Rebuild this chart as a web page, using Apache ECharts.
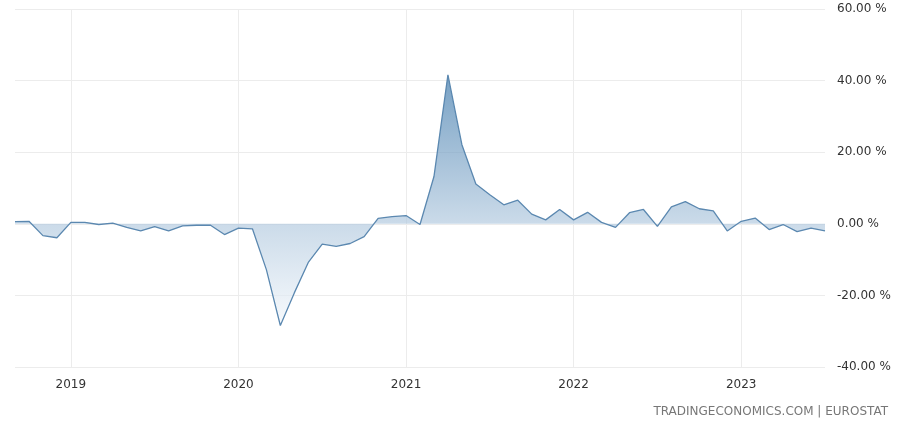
<!DOCTYPE html>
<html><head><meta charset="utf-8">
<script src="https://cdn.jsdelivr.net/npm/echarts@6/dist/echarts.min.js"></script>
<style>html,body{margin:0;padding:0;background:#fff}#c{width:900px;height:426px}</style>
</head><body><div id="c"></div>
<script>
const months = [];
(function(){let y=2018,m=9;for(let i=0;i<59;i++){months.push(y+'-'+String(m).padStart(2,'0'));m++;if(m>12){m=1;y++;}}})();
const values = [0.6,0.7,-3.3,-3.9,0.4,0.4,-0.2,0.2,-1.0,-2.0,-0.8,-2.0,-0.6,-0.4,-0.4,-3.0,-1.2,-1.4,-12.8,-28.4,-19.3,-10.8,-5.7,-6.3,-5.5,-3.6,1.5,2.0,2.3,
 -0.2,13.2,41.6,22.1,11.1,8.1,5.3,6.6,2.7,1.1,4.0,1.1,3.2,0.4,-1.0,3.1,4.0,-0.7,4.7,6.2,4.2,3.6,-2.0,0.7,1.6,-1.6,-0.2,-2.2,-1.2,-2.0];
const yTicks = [-40,-20,0,20,40,60];
const chart = echarts.init(document.getElementById('c'));
const isJan = (i)=>months[i].endsWith('-01');
chart.setOption({
  animation:false,
  grid:{left:15,right:75,top:9,bottom:59},
  xAxis:{type:'category',data:months,boundaryGap:false,
    axisLine:{show:false},axisTick:{show:false},
    axisLabel:{interval:(i)=>isJan(i),formatter:(v)=>v.slice(0,4),color:'#333',fontSize:12,fontFamily:'DejaVu Sans',margin:12},
    splitLine:{show:true,interval:(i)=>isJan(i),lineStyle:{color:'#ececec'}}},
  yAxis:{type:'value',position:'right',min:-40,max:60,interval:20,
    axisLabel:{formatter:(v)=>v.toFixed(2)+' %',color:'#333',fontSize:12,fontFamily:'DejaVu Sans',margin:12},
    splitLine:{lineStyle:{color:'#ececec'}},axisLine:{show:false},axisTick:{show:false}},
  graphic:[{type:'text',right:12,bottom:8,style:{text:'TRADINGECONOMICS.COM | EUROSTAT',fill:'#777',fontSize:12,fontFamily:'DejaVu Sans'}}],
  series:[{type:'line',data:values,symbol:'none',lineStyle:{color:'#5b88b0',width:1.3},
    areaStyle:{origin:0,color:new echarts.graphic.LinearGradient(0,0,0,1,[
      {offset:0,color:'#3d78aa'},{offset:0.59,color:'#b3cadf'},{offset:1,color:'#f3f7fb'}])}}]
});
</script></body></html>
